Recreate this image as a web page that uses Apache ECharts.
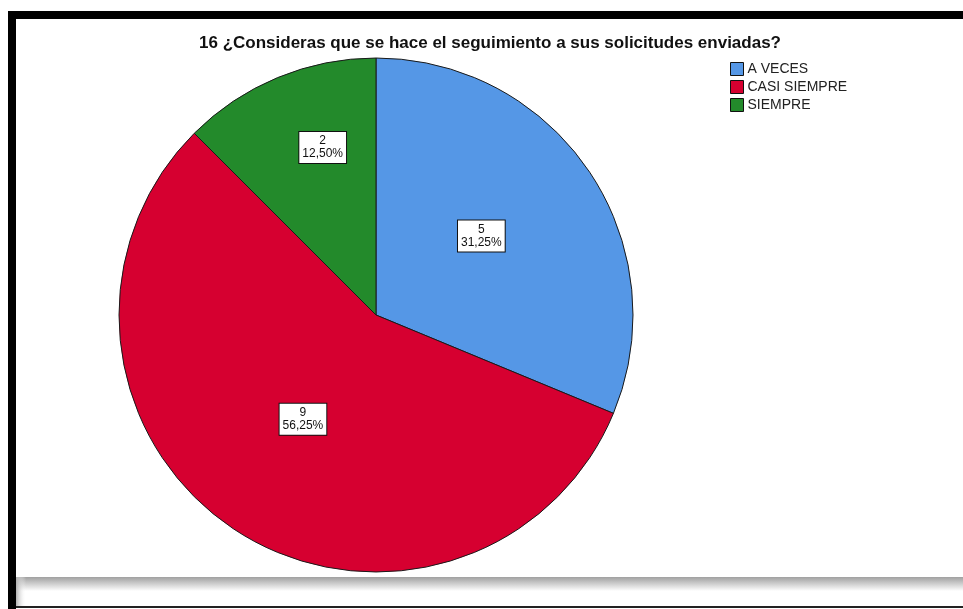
<!DOCTYPE html>
<html>
<head>
<meta charset="utf-8">
<script src="https://cdn.jsdelivr.net/npm/echarts@6/dist/echarts.min.js"></script>
<style>
  html, body { margin: 0; padding: 0; background: #fff; }
  #chart { width: 963px; height: 609px; }
</style>
</head>
<body>
<div id="chart"></div>
<script>
// Respuestas a la pregunta 16
const titleText = '16 ¿Consideras que se hace el seguimiento a sus solicitudes enviadas?';
const categories = ['A VECES', 'CASI SIEMPRE', 'SIEMPRE'];
const counts = [5, 9, 2];
const colors = ['#5597E6', '#D60030', '#238A2B'];

const total = counts.reduce((a, b) => a + b, 0);
const fmtPct = v => (v / total * 100).toFixed(2).replace('.', ',') + '%';

const font = 'Liberation Sans, Arial, sans-serif';

// label nudges per slice (the small slice sits nearer the rim)
const labelOffsets = {
  'A VECES': [-4, -6],
  'CASI SIEMPRE': [0, -5],
  'SIEMPRE': [-3, -46]
};

const data = categories.map((name, i) => ({
  name,
  value: counts[i],
  itemStyle: { color: colors[i] },
  label: { offset: labelOffsets[name] }
}));

const chart = echarts.init(document.getElementById('chart'), null, { renderer: 'canvas' });
chart.setOption({
  animation: false,
  backgroundColor: '#fff',
  title: {
    text: titleText,
    left: 490,
    textAlign: 'center',
    top: 35,
    padding: 0,
    textStyle: { fontFamily: font, fontSize: 17, fontWeight: 'bold', color: '#111' }
  },
  legend: {
    orient: 'vertical',
    left: 730,
    top: 62,
    padding: 0,
    itemWidth: 13,
    itemHeight: 13,
    itemGap: 4,
    icon: 'rect',
    itemStyle: { borderColor: '#111', borderWidth: 1 },
    textStyle: { fontFamily: font, fontSize: 14, lineHeight: 13, color: '#222', padding: [0, 0, 0, -1] },
    data: categories
  },
  graphic: [
    // frame: top and left bars
    { type: 'rect', shape: { x: 8, y: 11, width: 955, height: 8 }, style: { fill: '#000' }, silent: true },
    { type: 'rect', shape: { x: 8, y: 11, width: 8, height: 598 }, style: { fill: '#000' }, silent: true },
    // bottom shadow band
    { type: 'rect', shape: { x: 16, y: 577, width: 947, height: 14 },
      style: { fill: new echarts.graphic.LinearGradient(0, 0, 0, 1, [
        { offset: 0, color: '#a0a0a0' }, { offset: 1, color: '#ffffff' }]) }, silent: true },
    { type: 'rect', shape: { x: 16, y: 577, width: 10, height: 29 },
      style: { fill: new echarts.graphic.LinearGradient(0, 0, 1, 0, [
        { offset: 0, color: '#b0b0b0' }, { offset: 1, color: 'rgba(255,255,255,0)' }]) }, silent: true },
    { type: 'rect', shape: { x: 16, y: 606, width: 947, height: 2 }, style: { fill: '#222' }, silent: true }
  ],
  series: [{
    type: 'pie',
    center: [376, 315],
    radius: 257,
    startAngle: 90,
    clockwise: true,
    avoidLabelOverlap: false,
    itemStyle: { borderColor: '#1a1a1a', borderWidth: 1 },
    emphasis: { disabled: true },
    label: {
      show: true,
      position: 'inside',
      formatter: p => p.value + '\n' + fmtPct(p.value),
      fontFamily: font,
      fontSize: 12,
      lineHeight: 13,
      color: '#111',
      backgroundColor: '#fff',
      borderColor: '#111',
      borderWidth: 1,
      padding: [3, 3, 2, 3],
      align: 'center'
    },
    labelLine: { show: false },
    data
  }]
});
</script>
</body>
</html>
